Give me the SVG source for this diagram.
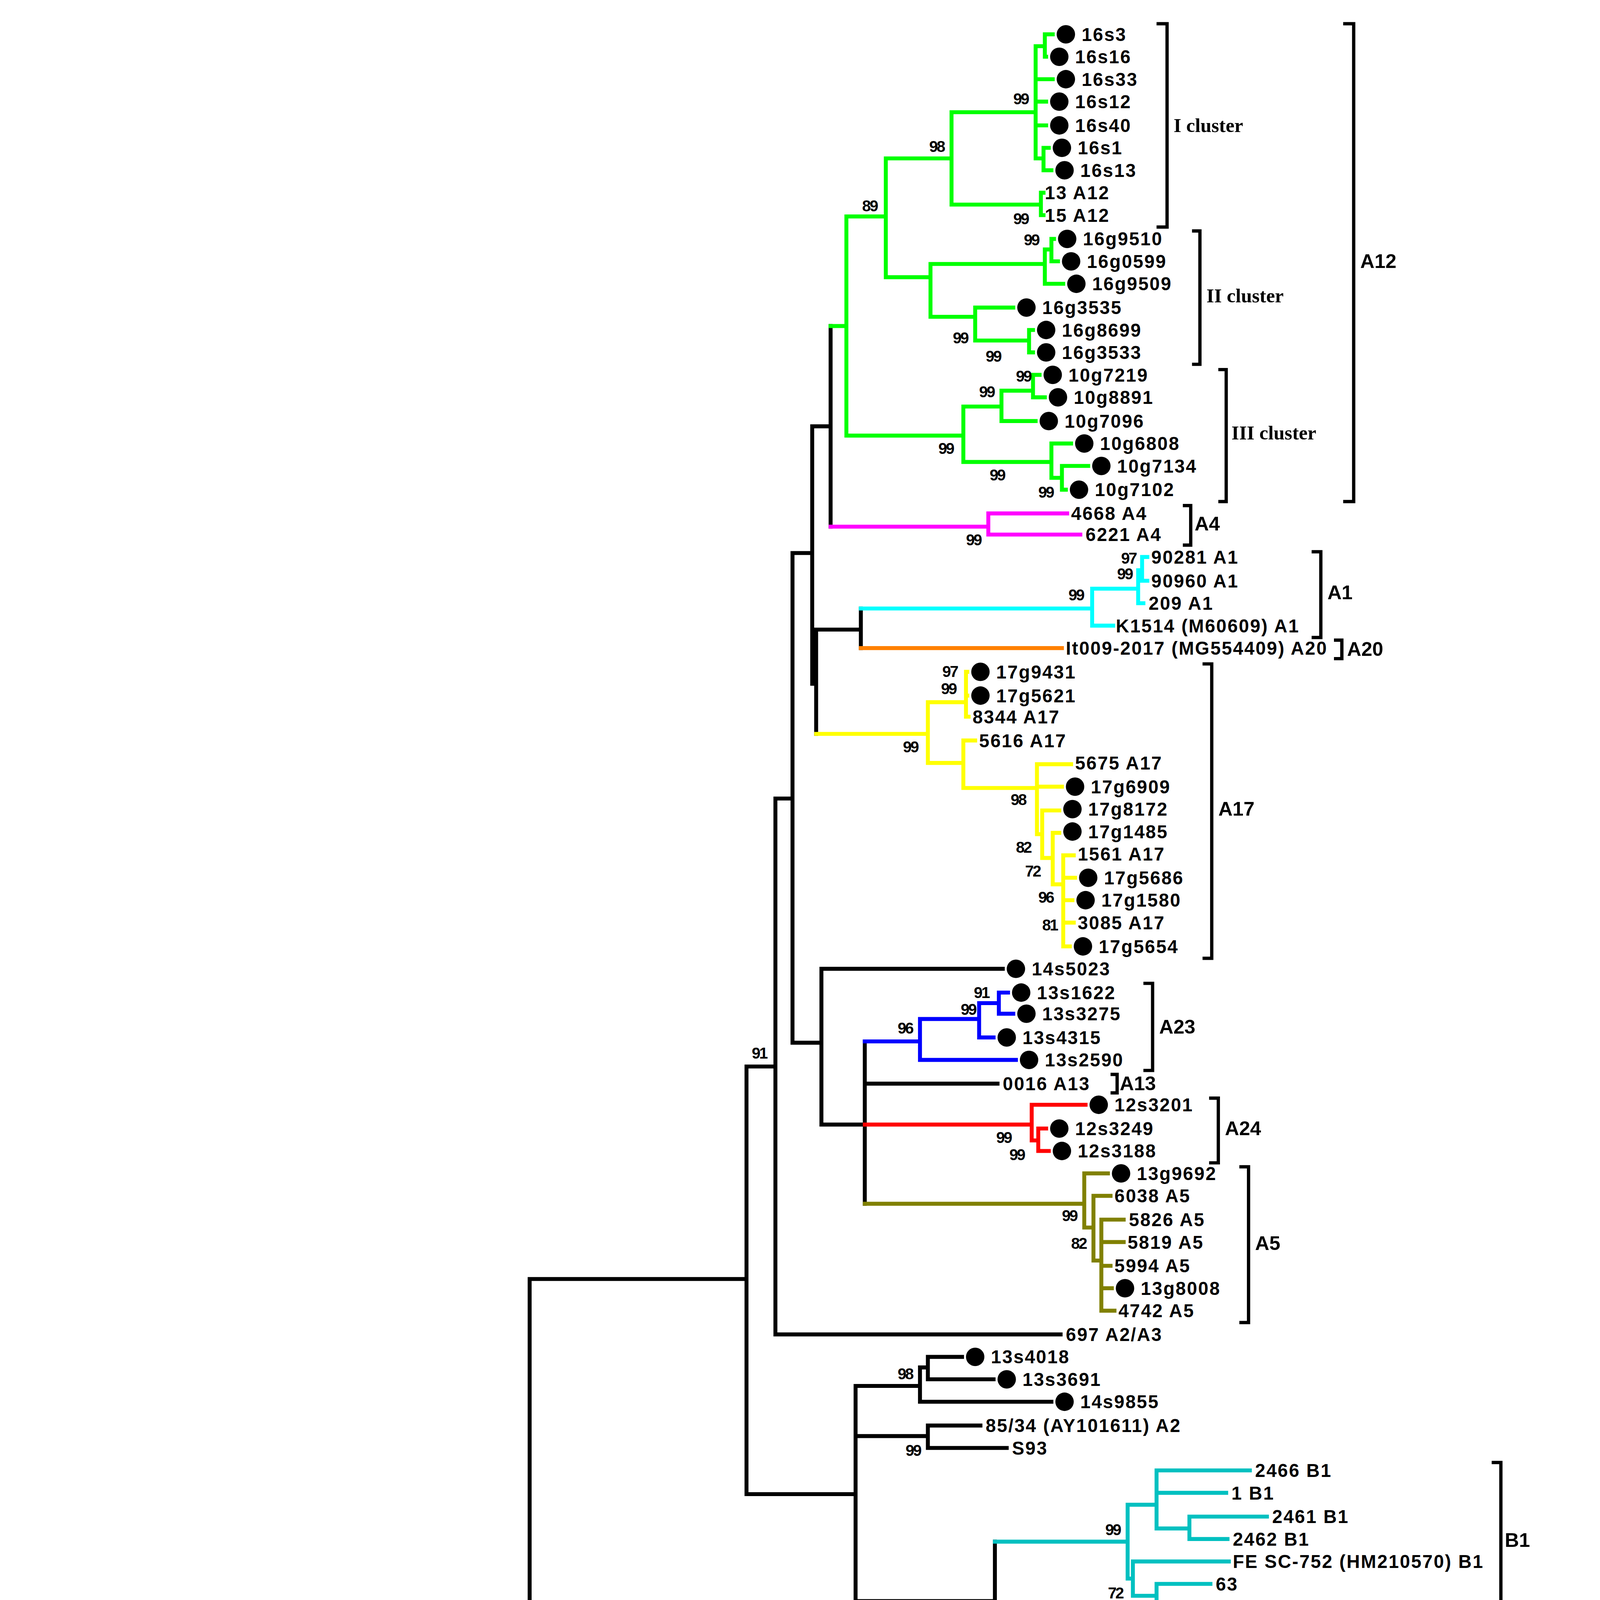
<svg xmlns="http://www.w3.org/2000/svg" width="4172" height="5292" viewBox="0 0 4172 5292">
<style>
.e{fill:none;stroke-width:3;stroke-linecap:square}
.k{stroke:#000}.g{stroke:#00ff00}.m{stroke:#ff00ff}.c{stroke:#00ffff}.o{stroke:#ff8000}.y{stroke:#ffff00}.b{stroke:#0000ff}.r{stroke:#ff0000}.ol{stroke:#808000}.t{stroke:#00c0c0}.p{stroke:#8000ff}.gr{stroke:#c0c0c0}.er{stroke:#ff4040}.pk{stroke:#ff66ff}
.br{fill:none;stroke:#000;stroke-width:2.5}
text{font-family:"Liberation Sans",Arial,sans-serif;font-weight:bold;fill:#000}
.l{font-size:14px;letter-spacing:0.8px}
.bs{font-size:12px;letter-spacing:-1px}
.cl{font-family:"Liberation Serif","Times New Roman",serif;font-size:15px}
.bl{font-size:15px}
circle{fill:#000}
</style>
<rect width="4172" height="5292" fill="#fff"/>
<g transform="scale(3.3645,3.379)">
<g id="connectors">
<path class="e k" d="M19 1229V1514M19 1229H403M403 969V1489M403 969H568M568 808V1132M568 808H590M568 1132H651M590 605V1011M590 605H603M590 1011H807M603 419V790M603 419H618M603 790H625M618 323V518M618 323H632M618 518H621M632 247V399M621 477V556M621 477H655M655 461V491M625 734V852M625 734H763M625 852H658M658 789V912M658 821H759M651 1050V1213M651 1050H700M651 1088H706M651 1213H757M700 1036V1062M700 1036H706M706 1028V1045M706 1028H732M706 1045H756M700 1062H800M706 1080V1097M706 1080H746M706 1097H766M757 1168V1255M757 1255H808M808 1234V1275M808 1234H945M778 1478H958M778 1496H932"/>
<path class="e g" d="M632 247H644M644 164V330M644 164H674M644 330H733M674 120V210M674 120H724M674 210H708M724 85V155M724 85H788M724 155H792M788 35V120M788 35H795M795 26V43M795 26H801M795 43H796M788 60H801M788 77H796M788 95H796M788 120H794M794 112V129M794 112H798M794 129H800M792 146V163M792 146H794M792 163H794M708 200V240M708 200H795M708 240H742M795 189V215M795 189H800M795 215H809M800 181V198M800 181H802M800 198H805M742 233V258M742 233H771M742 258H783M783 250V267M783 250H786M783 267H786M733 308V350M733 308H762M733 350H800M762 296V319M762 296H786M786 284V301M786 284H791M786 301H795M762 319H788M800 336V362M800 336H815M800 362H808M808 353V371M808 353H828M808 371H811"/>
<path class="e m" d="M632 399H752M752 389V405M752 389H812M752 405H822"/>
<path class="e c" d="M655 461H831M831 446V474M831 446H866M831 474H847M866 432V457M866 432H869M866 457H870M869 422V440M869 422H873M869 440H873"/>
<path class="e o" d="M655 491H808"/>
<path class="e y" d="M621 556H706M706 532V578M706 532H735M706 578H733M735 509V543M735 509H736M735 527H736M735 543H737M733 561V597M733 561H742M733 597H789M789 579V632M789 579H815M789 596H808M789 632H793M793 614V650M793 614H806M793 650H801M801 631V670M801 631H806M801 670H809M809 648V717M809 648H817M809 665H818M809 682H816M809 699H817M809 717H814"/>
<path class="e b" d="M658 789H700M700 772V803M700 772H745M700 803H773M745 760V786M745 760H760M745 786H756M760 752V768M760 752H767M760 768H771"/>
<path class="e r" d="M658 852H785M785 837V864M785 837H826M785 864H790M790 855V872M790 855H796M790 872H798"/>
<path class="e ol" d="M658 912H825M825 889V930M825 889H843M825 930H832M832 906V955M832 906H845M832 955H838M838 924V993M838 924H855M838 941H855M838 959H845M838 976H846M838 993H848"/>
<path class="e t" d="M757 1168H858M858 1140V1196M858 1140H880M858 1196H862M880 1114V1158M880 1114H951M880 1131H933M880 1158H905M905 1149V1166M905 1149H964M905 1166H934M862 1183V1209M862 1183H935M862 1209H880M880 1200V1218M880 1200H921M880 1218H932"/>
<path class="e p" d="M808 1274H815M815 1252V1295M815 1252H920M815 1295H828M828 1270V1323M828 1270H892M828 1323H877M877 1295V1351M877 1295H900M900 1288V1304M900 1288H914M900 1304H917M877 1351H884M884 1321V1378M884 1321H904M884 1339H897M884 1378H902M902 1356V1401M902 1356H936M902 1383H919M919 1374V1392M919 1374H921M919 1392H923M902 1401H905M905 1401V1426M905 1408H918M905 1426H918"/>
<path class="e gr" d="M403 1453H438M438 1444V1462M438 1444H563M438 1462H548"/>
<path class="e er" d="M403 1489H778M778 1478V1496"/>
<path class="e pk" d="M19 1514H962"/>
</g>
<g id="dots">
<circle cx="811" cy="26" r="7"/><circle cx="806" cy="43" r="7"/><circle cx="811" cy="60" r="7"/><circle cx="806" cy="77" r="7"/><circle cx="806" cy="95" r="7"/><circle cx="808" cy="112" r="7"/><circle cx="810" cy="129" r="7"/>
<circle cx="812" cy="181" r="7"/><circle cx="815" cy="198" r="7"/><circle cx="819" cy="215" r="7"/><circle cx="781" cy="233" r="7"/><circle cx="796" cy="250" r="7"/><circle cx="796" cy="267" r="7"/>
<circle cx="801" cy="284" r="7"/><circle cx="805" cy="301" r="7"/><circle cx="798" cy="319" r="7"/><circle cx="825" cy="336" r="7"/><circle cx="838" cy="353" r="7"/><circle cx="821" cy="371" r="7"/>
<circle cx="746" cy="509" r="7"/><circle cx="746" cy="527" r="7"/><circle cx="818" cy="596" r="7"/><circle cx="816" cy="613" r="7"/><circle cx="816" cy="630" r="7"/><circle cx="828" cy="665" r="7"/><circle cx="826" cy="682" r="7"/><circle cx="824" cy="717" r="7"/>
<circle cx="773" cy="734" r="7"/><circle cx="777" cy="752" r="7"/><circle cx="781" cy="768" r="7"/><circle cx="766" cy="786" r="7"/><circle cx="783" cy="803" r="7"/>
<circle cx="836" cy="837" r="7"/><circle cx="806" cy="855" r="7"/><circle cx="808" cy="872" r="7"/><circle cx="853" cy="889" r="7"/><circle cx="856" cy="976" r="7"/>
<circle cx="742" cy="1028" r="7"/><circle cx="766" cy="1045" r="7"/><circle cx="810" cy="1062" r="7"/>
<circle cx="946" cy="1357" r="7"/><circle cx="931" cy="1374" r="7"/><circle cx="933" cy="1391" r="7"/><circle cx="928" cy="1408" r="7"/><circle cx="928" cy="1426" r="7"/>
</g>
<g id="labels" class="l">
<text x="823" y="31">16s3</text><text x="818" y="48">16s16</text><text x="823" y="65">16s33</text><text x="818" y="82">16s12</text><text x="818" y="100">16s40</text><text x="820" y="117">16s1</text><text x="822" y="134">16s13</text>
<text x="795" y="151">13 A12</text><text x="795" y="168">15 A12</text>
<text x="824" y="186">16g9510</text><text x="827" y="203">16g0599</text><text x="831" y="220">16g9509</text><text x="793" y="238">16g3535</text><text x="808" y="255">16g8699</text><text x="808" y="272">16g3533</text>
<text x="813" y="289">10g7219</text><text x="817" y="306">10g8891</text><text x="810" y="324">10g7096</text><text x="837" y="341">10g6808</text><text x="850" y="358">10g7134</text><text x="833" y="376">10g7102</text>
<text x="815" y="394">4668 A4</text><text x="826" y="410">6221 A4</text>
<text x="876" y="427">90281 A1</text><text x="876" y="445">90960 A1</text><text x="874" y="462">209 A1</text><text x="849" y="479">K1514 (M60609) A1</text>
<text x="811" y="496">It009-2017 (MG554409) A20</text>
<text x="758" y="514">17g9431</text><text x="758" y="532">17g5621</text><text x="740" y="548">8344 A17</text><text x="745" y="566">5616 A17</text>
<text x="818" y="583">5675 A17</text><text x="830" y="601">17g6909</text><text x="828" y="618">17g8172</text><text x="828" y="635">17g1485</text><text x="820" y="652">1561 A17</text><text x="840" y="670">17g5686</text><text x="838" y="687">17g1580</text><text x="820" y="704">3085 A17</text><text x="836" y="722">17g5654</text>
<text x="785" y="739">14s5023</text><text x="789" y="757">13s1622</text><text x="793" y="773">13s3275</text><text x="778" y="791">13s4315</text><text x="795" y="808">13s2590</text>
<text x="763" y="826">0016 A13</text><text x="848" y="842">12s3201</text><text x="818" y="860">12s3249</text><text x="820" y="877">12s3188</text>
<text x="865" y="894">13g9692</text><text x="848" y="911">6038 A5</text><text x="859" y="929">5826 A5</text><text x="858" y="946">5819 A5</text><text x="848" y="964">5994 A5</text><text x="868" y="981">13g8008</text><text x="851" y="998">4742 A5</text>
<text x="811" y="1016">697 A2/A3</text>
<text x="754" y="1033">13s4018</text><text x="778" y="1050">13s3691</text><text x="822" y="1067">14s9855</text><text x="750" y="1085">85/34 (AY101611) A2</text><text x="770" y="1102">S93</text>
<text x="955" y="1119">2466 B1</text><text x="937" y="1136">1 B1</text><text x="968" y="1154">2461 B1</text><text x="938" y="1171">2462 B1</text><text x="938" y="1188">FE SC-752 (HM210570) B1</text><text x="925" y="1205">63</text><text x="936" y="1223">Cork (M33677) B1</text>
<text x="948" y="1240">It38.2017 (MH374287) A19</text>
<text x="923" y="1257">496 B2</text><text x="895" y="1275">1217 B2</text><text x="915" y="1292">0447 B2</text><text x="918" y="1309">4084 B2</text><text x="906" y="1327">4106 B2</text><text x="900" y="1344">2437 B2</text>
<text x="958" y="1362">16g0580</text><text x="943" y="1379">16s20</text><text x="945" y="1396">16s21</text><text x="940" y="1413">16s14</text><text x="940" y="1431">16g3540</text>
<text x="567" y="1449">Volterra (JF502417) B3</text><text x="552" y="1467">Fonni (JF502416) B3</text>
<text x="962" y="1483">Roccaverano (EU293537) E1</text><text x="936" y="1501">Seui (GQ381130) E2</text><text x="968" y="1519">1GA (AF322109) C</text>
</g>
<g id="bootstrap" class="bs">
<text x="771" y="79">99</text><text x="707" y="115">98</text><text x="656" y="160">89</text><text x="771" y="170">99</text><text x="779" y="186">99</text><text x="725" y="260">99</text><text x="750" y="274">99</text><text x="773" y="289">99</text><text x="745" y="301">99</text><text x="714" y="344">99</text><text x="753" y="364">99</text><text x="790" y="377">99</text><text x="735" y="413">99</text>
<text x="853" y="427">97</text><text x="850" y="439">99</text><text x="813" y="455">99</text>
<text x="717" y="513">97</text><text x="716" y="526">99</text><text x="687" y="570">99</text><text x="769" y="610">98</text><text x="773" y="646">82</text><text x="780" y="664">72</text><text x="790" y="684">96</text><text x="793" y="705">81</text>
<text x="741" y="756">91</text><text x="731" y="769">99</text><text x="683" y="783">96</text><text x="572" y="802">91</text><text x="758" y="866">99</text><text x="768" y="879">99</text><text x="808" y="925">99</text><text x="815" y="946">82</text>
<text x="683" y="1045">98</text><text x="689" y="1103">99</text><text x="841" y="1163">99</text><text x="843" y="1211">72</text><text x="858" y="1225">84</text>
<text x="788" y="1270">98</text><text x="794" y="1289">81</text><text x="806" y="1310">95</text><text x="855" y="1338">99</text><text x="878" y="1292">98</text><text x="899" y="1379">98</text><text x="884" y="1415">76</text><text x="886" y="1432">73</text>
<text x="421" y="1472">99</text><text x="761" y="1502">99</text>
</g>
<g id="brackets">
<path class="br" d="M880 18H888V172H880M907 175H913V276H907M927 280H933V380H927M1022 18H1030V380H1022M900 383H906V413H900M998 418H1005V483H998M1015 485H1021V499H1015M915 503H922V726H915M870 745H877V811H870M845 814H850V828H845M920 832H927V881H920M943 884H950V1002H943M1135 1108H1142V1227H1135M1143 1228H1150V1435H1143M741 1437H748V1469H741M1175 1472H1183V1486H1175M1095 1490H1102V1504H1095M1082 1507H1090V1521H1082"/>
<path d="M1213 1472H1220V1504H1213" fill="none" stroke="#888" stroke-width="1"/>
<text class="cl" x="893" y="100">I cluster</text><text class="cl" x="918" y="229">II cluster</text><text class="cl" x="937" y="333">III cluster</text>
<text class="bl" x="1035" y="203">A12</text><text class="bl" x="909" y="402">A4</text><text class="bl" x="1010" y="454">A1</text><text class="bl" x="1025" y="497">A20</text><text class="bl" x="927" y="618">A17</text><text class="bl" x="882" y="783">A23</text><text class="bl" x="852" y="826">A13</text><text class="bl" x="932" y="860">A24</text><text class="bl" x="955" y="947">A5</text><text class="bl" x="1145" y="1172">B1</text><text class="bl" x="1155" y="1336">B2</text><text class="bl" x="753" y="1458">B3</text><text class="bl" x="1188" y="1484">E1</text><text class="bl" x="1105" y="1501">E2</text><text class="bl" x="1095" y="1519">C</text>
</g>
<g id="scale">
<path class="br" d="M64 1541H195M64 1536V1546M195 1536V1546"/>
<text class="bs" x="121" y="1556">0.2</text>
</g>
</g>
</svg>
